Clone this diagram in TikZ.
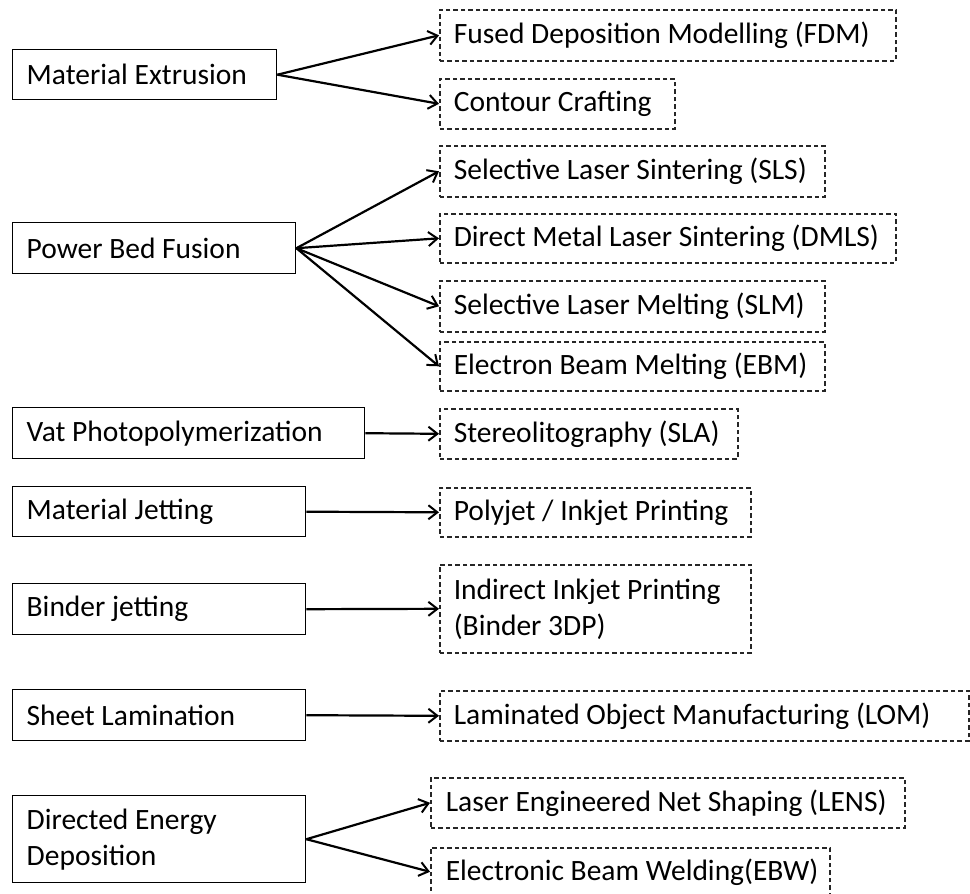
\documentclass[tikz,border=0pt]{standalone}
\usepackage{fontspec}
\setmainfont{Carlito}
\usetikzlibrary{arrows.meta}
\tikzset{
  basebox/.style={anchor=north west, inner xsep=14pt, inner ysep=0pt, align=left,
    font=\fontsize{29.5}{36}\selectfont, line width=1.4pt,
    execute at begin node={\spaceskip0pt\xspaceskip0pt\relax}},
  catbox/.style={basebox, draw=black},
  techbox/.style={basebox, draw=black!85, dash pattern=on 4.5pt off 3pt, line width=1.6pt},
  arr/.style={-{Straight Barb[length=9pt,width=14pt,line width=2pt]}, line width=2.2pt}
}
\begin{document}
\begin{tikzpicture}[x=1pt,y=-1pt]
\useasboundingbox (0,0) rectangle (970,894);
% category boxes
\node[catbox, text width=236pt, minimum height=50pt] (me) at (12,49) {\mbox{Material Extrusion}};
\node[catbox, text width=255pt, minimum height=51pt] (pbf) at (12,222) {\mbox{Power Bed Fusion}};
\node[catbox, text width=324pt, minimum height=51pt] (vp) at (12,407) {\mbox{Vat Photopolymerization}};
\node[catbox, text width=265pt, minimum height=50pt] (mj) at (12,486) {\mbox{Material Jetting}};
\node[catbox, text width=265pt, minimum height=51pt] (bj) at (12,583) {\mbox{Binder jetting}};
\node[catbox, text width=265pt, minimum height=51pt] (sl) at (12,689) {\mbox{Sheet Lamination}};
\node[catbox, text width=265pt, minimum height=87pt] (ded) at (12,795) {Directed Energy\\Deposition};
% technology boxes
\node[techbox, text width=428pt, minimum height=51pt] (fdm) at (439,9) {\mbox{Fused Deposition Modelling (FDM)}};
\node[techbox, text width=207pt, minimum height=50pt] (cc) at (439,78) {\mbox{Contour Crafting}};
\node[techbox, text width=357pt, minimum height=51pt] (sls) at (439,145) {\mbox{Selective Laser Sintering (SLS)}};
\node[techbox, text width=428pt, minimum height=49pt] (dmls) at (439,213) {\mbox{Direct Metal Laser Sintering (DMLS)}};
\node[techbox, text width=357pt, minimum height=51pt] (slm) at (439,280) {\mbox{Selective Laser Melting (SLM)}};
\node[techbox, text width=357pt, minimum height=49pt] (ebm) at (439,341) {\mbox{Electron Beam Melting (EBM)}};
\node[techbox, text width=270pt, minimum height=50pt] (sla) at (439,408) {\mbox{Stereolitography (SLA)}};
\node[techbox, text width=283pt, minimum height=49pt] (pj) at (439,487) {\mbox{Polyjet / Inkjet Printing}};
\node[techbox, text width=283pt, minimum height=88pt] (b3dp) at (439,564) {Indirect Inkjet Printing\\(Binder 3DP)};
\node[techbox, text width=501pt, minimum height=50pt] (lom) at (439,690) {\mbox{Laminated Object Manufacturing (LOM)}};
\node[techbox, inner xsep=15pt, text width=444pt, minimum height=50pt] (lens) at (430,777) {\mbox{Laser Engineered Net Shaping (LENS)}};
\node[techbox, inner xsep=15pt, text width=369pt, minimum height=48pt] (ebw) at (430,847) {\mbox{Electronic Beam Welding(EBW)}};
% connectors
\draw[arr] (me.east) -- (fdm.west);
\draw[arr] (me.east) -- (cc.west);
\draw[arr] (pbf.east) -- (sls.west);
\draw[arr] (pbf.east) -- (dmls.west);
\draw[arr] (pbf.east) -- (slm.west);
\draw[arr] (pbf.east) -- (ebm.west);
\draw[arr] (vp.east) -- (sla.west);
\draw[arr] (mj.east) -- (pj.west);
\draw[arr] (bj.east) -- (b3dp.west);
\draw[arr] (sl.east) -- (lom.west);
\draw[arr] (ded.east) -- (lens.west);
\draw[arr] (ded.east) -- (ebw.west);
\end{tikzpicture}
\end{document}
